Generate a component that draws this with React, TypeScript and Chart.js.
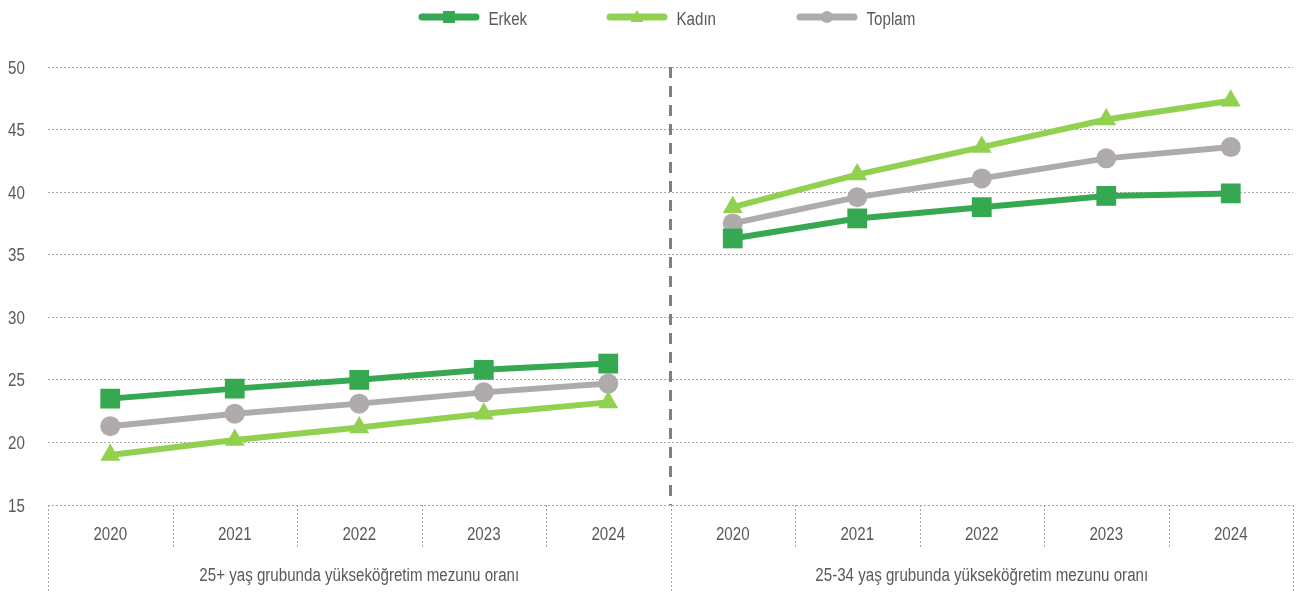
import React, { useEffect, useRef } from "react";
import { Chart, registerables } from "chart.js";

Chart.register(...registerables);

const years = ["2020", "2021", "2022", "2023", "2024", "2020", "2021", "2022", "2023", "2024"];
const groups = ["25+ yaş grubunda yükseköğretim mezunu oranı", "25-34 yaş grubunda yükseköğretim mezunu oranı"];
const erkek = [23.5, 24.3, 25.0, 25.8, 26.3, 36.3, 37.9, 38.8, 39.7, 39.9];
const kadin = [19.0, 20.2, 21.2, 22.3, 23.2, 38.8, 41.4, 43.6, 45.8, 47.3];
const toplam = [21.3, 22.3, 23.1, 24.0, 24.7, 37.5, 39.6, 41.1, 42.7, 43.6];
const seriesNames = ["Erkek", "Kadın", "Toplam"];
const colors = ["#36A852", "#92D050", "#AFABAB"];
const styles = ["rect", "triangle", "circle"];
const radii = [14, 11.5, 10];

const FONT = "'Liberation Sans', Arial, sans-serif";
const TEXT_COLOR = "#595959";
const SQUEEZE = 0.84;

function narrowText(ctx: any, text: string, x: number, y: number, align: string) {
  ctx.save();
  ctx.translate(x, y);
  ctx.scale(SQUEEZE, 1);
  ctx.textAlign = align;
  ctx.textBaseline = "alphabetic";
  ctx.fillText(text, 0, 0);
  ctx.restore();
}

const decor = {
  id: "decor",
  afterDraw(chart: any) {
    const ctx = chart.ctx;
    const ca = chart.chartArea;
    const xs = chart.scales.x;
    const ys = chart.scales.y;
    const n = years.length;
    const step = (ca.right - ca.left) / n;
    ctx.save();
    // axis separators
    ctx.strokeStyle = "#A6A6A6";
    ctx.lineWidth = 1;
    ctx.setLineDash([2, 2]);
    for (let i = 0; i <= n; i++) {
      const px = Math.round(ca.left + i * step) + 0.5;
      const full = i === 0 || i === n || i === 5;
      ctx.beginPath();
      ctx.moveTo(px, ca.bottom);
      ctx.lineTo(px, full ? chart.height : ca.bottom + 42);
      ctx.stroke();
    }
    // middle dashed line
    ctx.strokeStyle = "#808080";
    ctx.lineWidth = 3;
    ctx.setLineDash([11, 8]);
    const mx = ca.left + 5 * step;
    ctx.beginPath();
    ctx.moveTo(mx, ca.top);
    ctx.lineTo(mx, ca.bottom);
    ctx.stroke();
    ctx.setLineDash([]);

    ctx.fillStyle = TEXT_COLOR;
    ctx.font = `18px ${FONT}`;
    // y tick labels
    ys.ticks.forEach((t: any) => {
      narrowText(ctx, String(t.value), 8, ys.getPixelForValue(t.value) + 6.5, "left");
    });
    // x year labels
    years.forEach((y, i) => {
      narrowText(ctx, y, xs.getPixelForValue(i), 539.5, "center");
    });
    // group labels
    narrowText(ctx, groups[0], ca.left + 2.5 * step, 580.5, "center");
    narrowText(ctx, groups[1], ca.left + 7.5 * step, 580.5, "center");
    // legend
    const legendX = [419, 607, 797];
    for (let i = 0; i < 3; i++) {
      const lx = legendX[i];
      const ly = 17;
      ctx.strokeStyle = colors[i];
      ctx.lineWidth = 7;
      ctx.lineCap = "round";
      ctx.beginPath();
      ctx.moveTo(lx + 3, ly);
      ctx.lineTo(lx + 57, ly);
      ctx.stroke();
      ctx.fillStyle = colors[i];
      const cx = lx + 30;
      if (i === 0) {
        ctx.fillRect(cx - 6, ly - 6, 12, 12);
      } else if (i === 1) {
        ctx.beginPath();
        ctx.moveTo(cx, ly - 7);
        ctx.lineTo(cx + 6.5, ly + 5);
        ctx.lineTo(cx - 6.5, ly + 5);
        ctx.closePath();
        ctx.fill();
      } else {
        ctx.beginPath();
        ctx.arc(cx, ly, 6, 0, Math.PI * 2);
        ctx.fill();
      }
      ctx.fillStyle = TEXT_COLOR;
      narrowText(ctx, seriesNames[i], lx + 69.5, 25, "left");
    }
    ctx.restore();
  },
};

export default function App() {
  const ref = useRef<HTMLCanvasElement>(null);
  useEffect(() => {
    const dataArrays = [erkek, kadin, toplam];
    const chart = new Chart(ref.current as HTMLCanvasElement, {
      type: "line",
      data: {
        labels: years,
        datasets: dataArrays.map((d, i) => ({
          label: seriesNames[i],
          data: d,
          borderColor: colors[i],
          backgroundColor: colors[i],
          borderWidth: 6,
          pointStyle: styles[i] as any,
          pointRadius: radii[i],
          pointHoverRadius: radii[i],
          pointBorderWidth: 0,
          pointBackgroundColor: colors[i],
          pointBorderColor: colors[i],
          segment: {
            borderColor: (c: any) => (c.p0DataIndex === 4 ? "transparent" : colors[i]),
          },
        })),
      },
      plugins: [decor],
      options: {
        animation: false,
        responsive: true,
        maintainAspectRatio: false,
        layout: { autoPadding: false, padding: { left: 8, right: 5, top: 67, bottom: 0 } },
        plugins: { legend: { display: false }, tooltip: { enabled: false } },
        scales: {
          x: {
            type: "category",
            offset: true,
            grid: { display: false },
            border: { display: false },
            ticks: { display: false, autoSkip: false },
            afterFit: (s: any) => { s.height = 87; s.paddingLeft = 0; s.paddingRight = 0; },
          },
          y: {
            min: 15,
            max: 50,
            ticks: { stepSize: 5, display: false },
            grid: { color: "#A6A6A6", lineWidth: 1, drawTicks: false },
            border: { display: false, dash: [2, 2] },
            afterFit: (s: any) => { s.width = 40; s.paddingTop = 0; s.paddingBottom = 0; },
          },
        },
      },
    });
    return () => chart.destroy();
  }, []);
  return (
    <div style={{ position: "fixed", left: 0, top: 0, width: 1298, height: 592 }}>
      <canvas ref={ref} />
    </div>
  );
}
